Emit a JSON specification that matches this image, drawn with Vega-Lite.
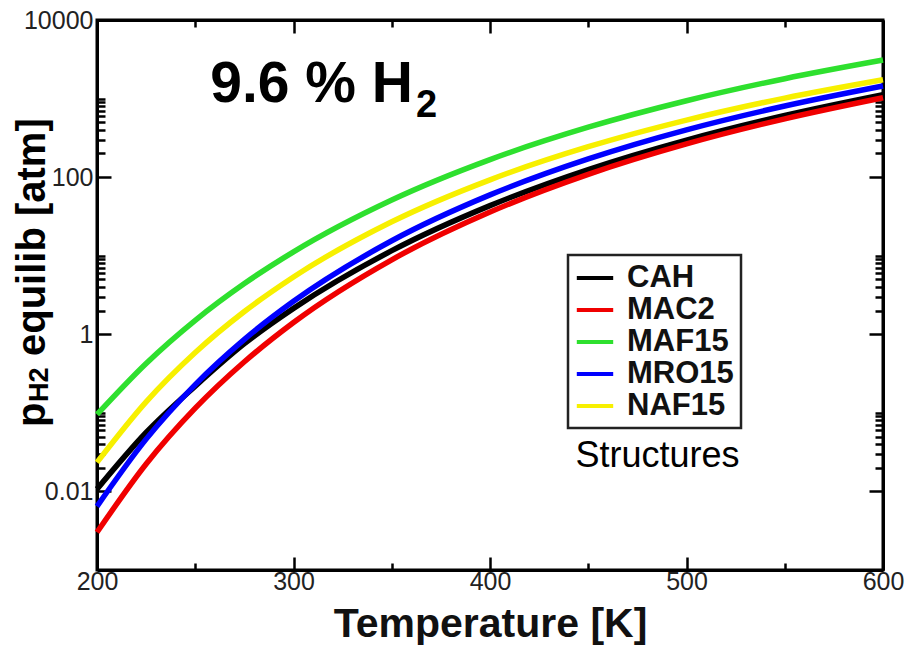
{
  "$schema": "https://vega.github.io/schema/vega-lite/v6.json",
  "width": 786,
  "height": 550,
  "autosize": {"type": "none"},
  "padding": {"left": 97, "top": 20, "right": 24, "bottom": 76},
  "background": "white",
  "config": {
    "view": {"stroke": "#000", "strokeWidth": 3},
    "font": "Liberation Sans",
    "axis": {"domainColor": "#000", "domainWidth": 3, "tickColor": "#000", "tickWidth": 2.5, "grid": false, "labelFont": "Liberation Sans", "labelFontSize": 25, "labelColor": "#222", "labelFlush": false, "labelOverlap": false},
    "legend": {"orient": "none", "legendX": 471, "legendY": 235, "strokeColor": "#222", "strokeWidth": 2.5, "fillColor": "white", "padding": 7, "symbolType": "M-1.3,0H1.3", "symbolSize": 784, "symbolStrokeWidth": 4, "symbolFillColor": "transparent", "symbolOffset": 4, "labelFontSize": 31, "labelFontWeight": "bold", "labelFont": "Liberation Sans", "labelColor": "#111", "labelOffset": 16, "rowPadding": 1}
  },
  "datasets": {
    "curves": [
      {"structure": "CAH", "T": 200, "p": 0.0107},
      {"structure": "CAH", "T": 225, "p": 0.05623},
      {"structure": "CAH", "T": 250, "p": 0.2188},
      {"structure": "CAH", "T": 275, "p": 0.7603},
      {"structure": "CAH", "T": 300, "p": 2.138},
      {"structure": "CAH", "T": 350, "p": 11.59},
      {"structure": "CAH", "T": 400, "p": 43.4},
      {"structure": "CAH", "T": 450, "p": 125.0},
      {"structure": "CAH", "T": 500, "p": 296.5},
      {"structure": "CAH", "T": 550, "p": 609.5},
      {"structure": "CAH", "T": 600, "p": 1122},
      {"structure": "MAC2", "T": 200, "p": 0.00302},
      {"structure": "MAC2", "T": 225, "p": 0.02234},
      {"structure": "MAC2", "T": 250, "p": 0.1146},
      {"structure": "MAC2", "T": 275, "p": 0.4467},
      {"structure": "MAC2", "T": 300, "p": 1.413},
      {"structure": "MAC2", "T": 350, "p": 8.872},
      {"structure": "MAC2", "T": 400, "p": 35.97},
      {"structure": "MAC2", "T": 450, "p": 108.6},
      {"structure": "MAC2", "T": 500, "p": 264.9},
      {"structure": "MAC2", "T": 550, "p": 552.1},
      {"structure": "MAC2", "T": 600, "p": 1023},
      {"structure": "MAF15", "T": 200, "p": 0.0955},
      {"structure": "MAF15", "T": 225, "p": 0.4256},
      {"structure": "MAF15", "T": 250, "p": 1.507},
      {"structure": "MAF15", "T": 275, "p": 4.426},
      {"structure": "MAF15", "T": 300, "p": 11.22},
      {"structure": "MAF15", "T": 350, "p": 51.23},
      {"structure": "MAF15", "T": 400, "p": 167.4},
      {"structure": "MAF15", "T": 450, "p": 432.1},
      {"structure": "MAF15", "T": 500, "p": 938.4},
      {"structure": "MAF15", "T": 550, "p": 1790},
      {"structure": "MAF15", "T": 600, "p": 3090},
      {"structure": "MRO15", "T": 200, "p": 0.00646},
      {"structure": "MRO15", "T": 225, "p": 0.04634},
      {"structure": "MRO15", "T": 250, "p": 0.2291},
      {"structure": "MRO15", "T": 275, "p": 0.863},
      {"structure": "MRO15", "T": 300, "p": 2.63},
      {"structure": "MRO15", "T": 350, "p": 15.49},
      {"structure": "MRO15", "T": 400, "p": 59.43},
      {"structure": "MRO15", "T": 450, "p": 170.6},
      {"structure": "MRO15", "T": 500, "p": 399.9},
      {"structure": "MRO15", "T": 550, "p": 803.5},
      {"structure": "MRO15", "T": 600, "p": 1445},
      {"structure": "NAF15", "T": 200, "p": 0.0234},
      {"structure": "NAF15", "T": 225, "p": 0.138},
      {"structure": "NAF15", "T": 250, "p": 0.586},
      {"structure": "NAF15", "T": 275, "p": 1.95},
      {"structure": "NAF15", "T": 300, "p": 5.37},
      {"structure": "NAF15", "T": 350, "p": 27.04},
      {"structure": "NAF15", "T": 400, "p": 92.47},
      {"structure": "NAF15", "T": 450, "p": 243.8},
      {"structure": "NAF15", "T": 500, "p": 532.1},
      {"structure": "NAF15", "T": 550, "p": 1014},
      {"structure": "NAF15", "T": 600, "p": 1738}
    ]
  },
  "layer": [
    {
      "data": {"name": "curves"},
      "mark": {"type": "line", "strokeWidth": 5.5, "interpolate": "monotone"},
      "encoding": {
        "x": {"field": "T", "type": "quantitative",
          "scale": {"domain": [200, 600], "nice": false, "zero": false},
          "axis": {"orient": "bottom", "values": [200, 250, 300, 350, 400, 450, 500, 550, 600],
            "labelExpr": "datum.value % 100 == 0 ? datum.label : ''",
            "tickSize": {"condition": {"test": "datum.value % 100 == 0", "value": -13}, "value": -7},
            "labelPadding": 12, "labelFontSize": 25, "labelFont": "Liberation Sans", "labelColor": "#222",
            "title": "Temperature [K]", "titleFontSize": 41, "titleFontWeight": "bold", "titleColor": "#111",
            "titleBaseline": "alphabetic", "titleY": 66}},
        "y": {"field": "p", "type": "quantitative",
          "scale": {"type": "log", "domain": [0.001, 10000], "nice": false},
          "axis": {"orient": "left",
            "values": [0.01, 0.02, 0.03, 0.04, 0.05, 0.06, 0.07, 0.08, 0.09, 0.1, 1, 2, 3, 4, 5, 6, 7, 8, 9, 10, 100, 200, 300, 400, 500, 600, 700, 800, 900, 1000, 10000],
            "labelExpr": "(datum.value == 0.01 || datum.value == 1 || datum.value == 100 || datum.value == 10000) ? format(datum.value, '~g') : ''",
            "tickSize": {"condition": {"test": "datum.value == 0.01 || datum.value == 1 || datum.value == 100 || datum.value == 10000", "value": -14}, "value": -8},
            "labelPadding": 18, "labelFontSize": 25, "labelFont": "Liberation Sans", "labelColor": "#222",
            "title": null}},
        "color": {"field": "structure", "type": "nominal",
          "scale": {"domain": ["CAH", "MAC2", "MAF15", "MRO15", "NAF15"], "range": ["#000000", "#f00000", "#2ee02e", "#0000ff", "#f7f000"]},
          "legend": {"title": null}}
      }
    },
    {
      "data": {"name": "curves"},
      "mark": {"type": "point", "opacity": 0},
      "encoding": {
        "x": {"field": "T", "type": "quantitative",
          "scale": {"domain": [200, 600], "nice": false, "zero": false},
          "axis": {"orient": "top", "values": [200, 250, 300, 350, 400, 450, 500, 550, 600], "labels": false, "title": null,
            "tickSize": {"condition": {"test": "datum.value % 100 == 0", "value": -13}, "value": -7}}},
        "y": {"field": "p", "type": "quantitative",
          "scale": {"type": "log", "domain": [0.001, 10000], "nice": false},
          "axis": {"orient": "right", "labels": false, "title": null,
            "values": [0.01, 0.02, 0.03, 0.04, 0.05, 0.06, 0.07, 0.08, 0.09, 0.1, 1, 2, 3, 4, 5, 6, 7, 8, 9, 10, 100, 200, 300, 400, 500, 600, 700, 800, 900, 1000, 10000],
            "tickSize": {"condition": {"test": "datum.value == 0.01 || datum.value == 1 || datum.value == 100 || datum.value == 10000", "value": -14}, "value": -8}}}
      }
    },
    {
      "data": {"values": [{}]},
      "mark": {"type": "text", "text": "9.6 % H", "align": "right", "baseline": "alphabetic", "fontSize": 57, "fontWeight": "bold", "color": "#000", "clip": false},
      "encoding": {
        "x": {"datum": 360.8, "type": "quantitative", "scale": {"domain": [200, 600], "nice": false, "zero": false}, "axis": null},
        "y": {"datum": 904, "type": "quantitative", "scale": {"type": "log", "domain": [0.001, 10000], "nice": false}, "axis": null}
      }
    },
    {
      "data": {"values": [{}]},
      "mark": {"type": "text", "text": "2", "align": "left", "baseline": "alphabetic", "dx": 3, "dy": 15, "fontSize": 38, "fontWeight": "bold", "color": "#000", "clip": false},
      "encoding": {
        "x": {"datum": 360.8, "type": "quantitative", "scale": {"domain": [200, 600], "nice": false, "zero": false}, "axis": null},
        "y": {"datum": 904, "type": "quantitative", "scale": {"type": "log", "domain": [0.001, 10000], "nice": false}, "axis": null}
      }
    },
    {
      "data": {"values": [{}]},
      "mark": {"type": "text", "text": "Structures", "align": "center", "baseline": "alphabetic", "fontSize": 36, "fontWeight": "normal", "color": "#000", "clip": false},
      "encoding": {
        "x": {"datum": 485.2, "type": "quantitative", "scale": {"domain": [200, 600], "nice": false, "zero": false}, "axis": null},
        "y": {"datum": 0.0205, "type": "quantitative", "scale": {"type": "log", "domain": [0.001, 10000], "nice": false}, "axis": null}
      }
    },
    {
      "data": {"values": [{}]},
      "mark": {"type": "text", "text": "p", "align": "left", "baseline": "alphabetic", "angle": 270, "fontSize": 40, "fontWeight": "bold", "color": "#000", "clip": false},
      "encoding": {
        "x": {"datum": 173.5, "type": "quantitative", "scale": {"domain": [200, 600], "nice": false, "zero": false}, "axis": null},
        "y": {"datum": 0.066, "type": "quantitative", "scale": {"type": "log", "domain": [0.001, 10000], "nice": false}, "axis": null}
      }
    },
    {
      "data": {"values": [{}]},
      "mark": {"type": "text", "text": "H2", "align": "left", "baseline": "alphabetic", "angle": 270, "dx": 25, "dy": 3, "fontSize": 27, "fontWeight": "bold", "color": "#000", "clip": false},
      "encoding": {
        "x": {"datum": 173.5, "type": "quantitative", "scale": {"domain": [200, 600], "nice": false, "zero": false}, "axis": null},
        "y": {"datum": 0.066, "type": "quantitative", "scale": {"type": "log", "domain": [0.001, 10000], "nice": false}, "axis": null}
      }
    },
    {
      "data": {"values": [{}]},
      "mark": {"type": "text", "text": "equilib [atm]", "align": "left", "baseline": "alphabetic", "angle": 270, "dx": 71, "fontSize": 40, "fontWeight": "bold", "color": "#000", "clip": false},
      "encoding": {
        "x": {"datum": 173.5, "type": "quantitative", "scale": {"domain": [200, 600], "nice": false, "zero": false}, "axis": null},
        "y": {"datum": 0.066, "type": "quantitative", "scale": {"type": "log", "domain": [0.001, 10000], "nice": false}, "axis": null}
      }
    }
  ],
  "resolve": {"axis": {"x": "independent", "y": "independent"}}
}
